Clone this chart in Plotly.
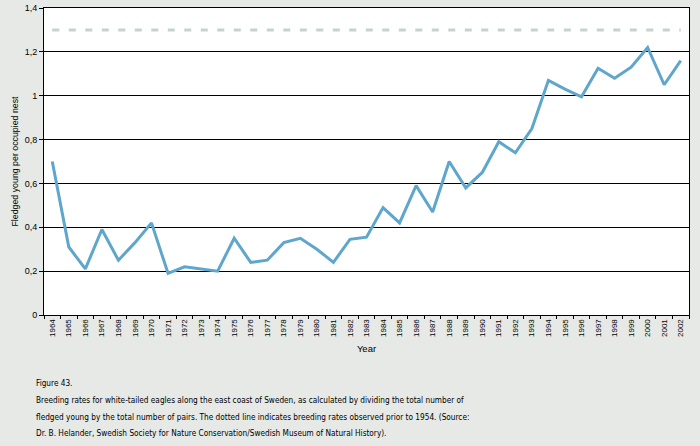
import plotly.graph_objects as go

years = [str(y) for y in range(1964, 2003)]
rates = [0.70, 0.31, 0.21, 0.39, 0.25, 0.33, 0.42, 0.19, 0.22, 0.21,
         0.20, 0.35, 0.24, 0.25, 0.33, 0.35, 0.30, 0.24, 0.345, 0.355,
         0.49, 0.42, 0.59, 0.47, 0.70, 0.58, 0.65, 0.79, 0.74, 0.85,
         1.07, 1.03, 0.995, 1.125, 1.08, 1.13, 1.22, 1.05, 1.16]
historic_rate = 1.3
y_ticks = [0, 0.2, 0.4, 0.6, 0.8, 1.0, 1.2, 1.4]
y_tick_labels = ["0", "0,2", "0,4", "0,6", "0,8", "1", "1,2", "1,4"]

caption_title = "Figure 43."
caption_lines = [
    "Breeding rates for white-tailed eagles along the east coast of Sweden, as calculated by dividing the total number of",
    "fledged young by the total number of pairs. The dotted line indicates breeding rates observed prior to 1954. (Source:",
    "Dr. B. Helander, Swedish Society for Nature Conservation/Swedish Museum of Natural History).",
]

fig = go.Figure()
fig.add_trace(go.Scatter(
    x=years, y=[historic_rate] * len(years), mode="lines",
    line=dict(color="#c5d3cf", width=3, dash="7px,9.5px"),
    hoverinfo="skip", showlegend=False,
))
fig.add_trace(go.Scatter(
    x=years, y=rates, mode="lines",
    line=dict(color="#5ea6cc", width=3),
    showlegend=False,
))

fig.update_layout(
    width=700, height=446,
    margin=dict(l=44, r=11, t=8, b=131),
    paper_bgcolor="#e6e9e6", plot_bgcolor="#ffffff",
    font=dict(family="Liberation Sans, Arial, sans-serif", color="#000000"),
)
fig.update_xaxes(
    type="category", tickson="boundaries", ticks="outside", ticklen=3,
    range=[-0.5, len(years) - 0.5], automargin=False,
    tickcolor="#000", tickangle=-90, tickfont=dict(size=8),
    showgrid=False, showline=True, linecolor="#000", linewidth=1, mirror=True,
    title=dict(text="Year", font=dict(size=9.5), standoff=9),
)
fig.update_yaxes(
    range=[0, 1.4], tickvals=y_ticks, ticktext=y_tick_labels, automargin=False,
    ticks="outside", ticklen=4, tickcolor="#000", tickfont=dict(size=9),
    showgrid=True, gridcolor="#000", gridwidth=1,
    showline=True, linecolor="#000", linewidth=1, mirror=True, zeroline=False,
    title=dict(text="Fledged young per occupied nest", font=dict(size=8.8), standoff=4),
)

cap_font = dict(family="DejaVu Sans Condensed, Liberation Sans, sans-serif", size=8.2, color="#000")
fig.add_annotation(text=caption_title, xref="paper", yref="paper",
                   x=-10 / 645, y=-68 / 307, xanchor="left", yanchor="middle",
                   showarrow=False, font=cap_font)
for i, line in enumerate(caption_lines):
    fig.add_annotation(text=line, xref="paper", yref="paper",
                       x=-10 / 645, y=-(85 + 16.5 * i) / 307,
                       xanchor="left", yanchor="middle",
                       showarrow=False, font=cap_font)

fig.write_html(
    "out.html",
    config={"displayModeBar": False},
    post_script="document.body.style.margin='0';document.body.style.background='#e6e9e6';",
)
